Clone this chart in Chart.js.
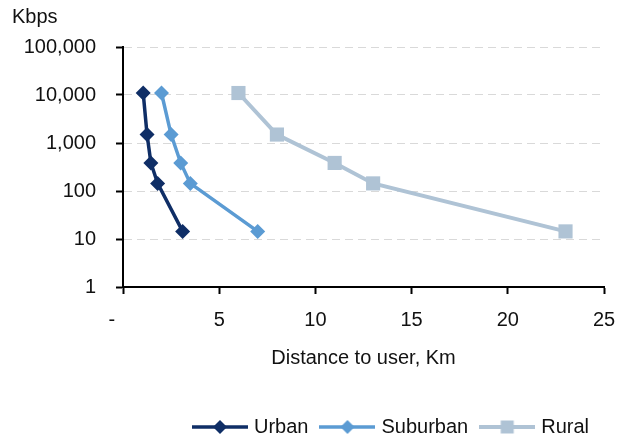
<!DOCTYPE html>
<html>
<head>
<meta charset="utf-8">
<script src="https://cdn.jsdelivr.net/npm/chart.js@4/dist/chart.umd.min.js"></script>
<style>
  html, body { margin: 0; padding: 0; background: #fff; }
  #wrap { width: 618px; height: 436px; }
</style>
</head>
<body>
<div id="wrap"><canvas id="c" width="618" height="436"></canvas></div>
<script>
// Throughput versus distance, by deployment area
const seriesNames = ['Urban', 'Suburban', 'Rural'];
const throughputKbps = [11000, 1500, 384, 144, 14.4];
const urbanKm = [1.05, 1.25, 1.45, 1.8, 3.1];
const suburbanKm = [2, 2.5, 3, 3.5, 7];
const ruralKm = [6, 8, 11, 13, 23];

const yTickValues = [1, 10, 100, 1000, 10000, 100000];
const xTickValues = [0, 5, 10, 15, 20, 25];
const xTickLabels = ['-', '5', '10', '15', '20', '25'];
const yUnit = 'Kbps';
const xTitle = 'Distance to user, Km';

const colors = ['#0F2E66', '#5B9BD3', '#AFC3D5'];
const FONT = '"Liberation Sans", Arial, sans-serif';
Chart.defaults.font.family = FONT;
Chart.defaults.color = '#111';

function toPoints(xs) {
  return xs.map((x, i) => ({ x: x, y: throughputKbps[i] }));
}

// Legend glyph: a short line with the series marker in the middle
function legendGlyph(color, shape, lw) {
  const c = document.createElement('canvas');
  c.width = 56; c.height = 20;
  const g = c.getContext('2d');
  g.strokeStyle = color; g.lineWidth = lw;
  g.beginPath(); g.moveTo(0, 10); g.lineTo(56, 10); g.stroke();
  g.fillStyle = color;
  if (shape === 'diamond') {
    g.beginPath();
    g.moveTo(21, 10); g.lineTo(28, 3); g.lineTo(35, 10); g.lineTo(28, 17);
    g.closePath(); g.fill();
  } else {
    g.fillRect(21.5, 3.5, 13, 13);
  }
  return c;
}
const glyphs = [
  legendGlyph(colors[0], 'diamond', 3.5),
  legendGlyph(colors[1], 'diamond', 3.5),
  legendGlyph(colors[2], 'square', 4)
];

// Unit label above the value axis
const unitLabel = {
  id: 'unitLabel',
  afterDraw(chart) {
    const ctx = chart.ctx;
    ctx.save();
    ctx.font = '20px ' + FONT;
    ctx.fillStyle = '#111';
    ctx.textBaseline = 'alphabetic';
    ctx.textAlign = 'left';
    ctx.fillText(yUnit, 12, 23);
    ctx.restore();
  }
};

function lineSet(name, xs, color, style, radius, width) {
  return {
    label: name,
    data: toPoints(xs),
    borderColor: color,
    backgroundColor: color,
    borderWidth: width,
    pointStyle: style,
    pointRadius: radius,
    pointHoverRadius: radius,
    pointBackgroundColor: color,
    pointBorderWidth: 0,
    tension: 0,
    fill: false
  };
}

new Chart(document.getElementById('c'), {
  type: 'line',
  data: {
    datasets: [
      lineSet(seriesNames[0], urbanKm, colors[0], 'rectRot', 7.5, 3.5),
      lineSet(seriesNames[1], suburbanKm, colors[1], 'rectRot', 7.5, 3.5),
      lineSet(seriesNames[2], ruralKm, colors[2], 'rect', 10, 4)
    ]
  },
  options: {
    responsive: false,
    animation: false,
    layout: { padding: { left: 0, right: 14, top: 47, bottom: -11 } },
    plugins: {
      tooltip: { enabled: false },
      legend: {
        position: 'bottom',
        align: 'end',
        labels: {
          usePointStyle: true,
          pointStyleWidth: 48,
          padding: 15,
          color: '#111',
          font: { size: 20 },
          generateLabels(chart) {
            const items = Chart.defaults.plugins.legend.labels.generateLabels(chart);
            items.forEach((it, i) => { it.pointStyle = glyphs[i]; });
            return items;
          }
        }
      }
    },
    scales: {
      x: {
        type: 'linear',
        min: 0,
        max: 25,
        afterBuildTicks(s) { s.ticks = xTickValues.map(v => ({ value: v })); },
        afterFit(s) {
          s.height = 115;
          s.paddingLeft = 0;
          s.paddingRight = 0;
        },
        grid: { drawOnChartArea: false, tickLength: 7, tickColor: '#000', tickWidth: 2 },
        border: { color: '#000', width: 2 },
        ticks: {
          padding: 14,
          color: '#111',
          font: { size: 20 },
          maxRotation: 0,
          callback: (v) => {
            const t = xTickLabels[xTickValues.indexOf(v)];
            return v === 0 ? t + '    ' : t;
          }
        },
        title: {
          display: true,
          text: xTitle,
          color: '#111',
          font: { size: 20 },
          padding: { top: 0, bottom: 32 }
        }
      },
      y: {
        type: 'logarithmic',
        min: 1,
        max: 100000,
        afterBuildTicks(s) { s.ticks = yTickValues.map(v => ({ value: v })); },
        afterFit(s) { s.width = 123; },
        grid: { color: '#d9d9d9', lineWidth: 1, tickLength: 7, tickColor: '#000', tickWidth: 2 },
        border: { color: '#000', width: 2, dash: [8, 5] },
        ticks: {
          padding: 20,
          color: '#111',
          font: { size: 20 },
          callback: (v) => Number(v).toLocaleString('en-US')
        }
      }
    }
  },
  plugins: [unitLabel]
});
</script>
</body>
</html>
